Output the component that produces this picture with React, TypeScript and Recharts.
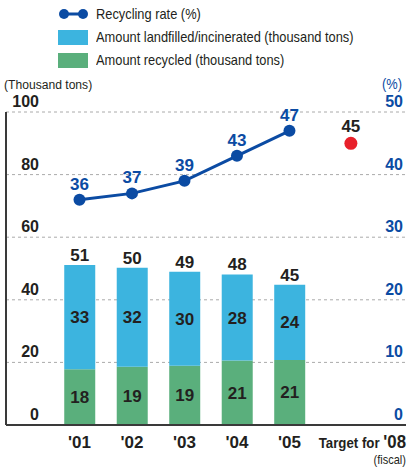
import { Bar, CartesianGrid, ComposedChart, LabelList, Line, XAxis, YAxis } from "recharts"

// fiscal years
const years = ["'01", "'02", "'03", "'04", "'05"]
// thousand tons
const recycled = [17.8, 18.6, 18.9, 20.6, 20.8]
const landfilled = [33.3, 31.6, 30.1, 27.5, 24.0]
// recycling rate (%)
const rate = [36, 37, 39, 43, 47]
const targetRate = 45
const targetLabel = "'08"

const leftTicks = [0, 20, 40, 60, 80, 100]
const rightTicks = [0, 10, 20, 30, 40, 50]

// where the target sits on the x scale (a bit further out than a year step)
const TARGET_X = 6.17

const BLUE = '#0b4ba3'
const LANDFILL = '#3cb4df'
const GREEN = '#5aaf7c'
const RED = '#e8202a'
const INK = '#231f20'
const SANS = '"Liberation Sans", Arial, sans-serif'
// the original uses a condensed face; squeeze the regular one
const SQUEEZE = 0.885

const data = [
  ...years.map((y, i) => ({
    x: i + 1,
    year: y,
    recycled: recycled[i],
    landfilled: landfilled[i],
    total: recycled[i] + landfilled[i],
    rate: rate[i],
  })),
  { x: TARGET_X, year: targetLabel, target: targetRate },
]

const round = (v: any) => (v == null ? '' : Math.round(Number(v)))

function XTick(props: any) {
  const { x, y, payload } = props
  const row = data.find((d) => d.x === payload.value)
  if (!row) return null
  if (row.x === TARGET_X) {
    return (
      <g transform={`translate(406 ${y}) scale(${SQUEEZE} 1)`}>
        <text x={0} y={15} textAnchor="end" fill={INK} fontFamily={SANS} fontWeight="bold">
          <tspan fontSize={15}>Target for </tspan>
          <tspan fontSize={19}>{row.year}</tspan>
        </text>
        <text x={0} y={31} textAnchor="end" fill={INK} fontFamily={SANS} fontSize={12.5}>
          (fiscal)
        </text>
      </g>
    )
  }
  return (
    <text x={x} y={y + 15} textAnchor="middle" fill={INK} fontFamily={SANS} fontWeight="bold" fontSize={17}>
      {row.year}
    </text>
  )
}

function LeftTick(props: any) {
  const { y, payload } = props
  return (
    <text x={39} y={y - 5} textAnchor="end" fill={INK} fontFamily={SANS} fontWeight="bold" fontSize={16}>
      {payload.value}
    </text>
  )
}

function RightTick(props: any) {
  const { y, payload } = props
  return (
    <text x={403} y={y - 5} textAnchor="end" fill={BLUE} fontFamily={SANS} fontWeight="bold" fontSize={16}>
      {payload.value}
    </text>
  )
}

function Legend() {
  const row = { position: 'absolute' as const, left: 58, display: 'flex', alignItems: 'center' }
  const txt = {
    whiteSpace: 'nowrap' as const,
    transform: `scaleX(${SQUEEZE})`,
    transformOrigin: 'left center',
    marginLeft: 8,
    fontFamily: SANS,
    fontSize: 14.5,
    color: INK,
    lineHeight: '16px',
  }
  return (
    <>
      <div style={{ ...row, top: 6 }}>
        <svg width={30} height={16}>
          <line x1={6} y1={8} x2={25} y2={8} stroke={BLUE} strokeWidth={3} />
          <circle cx={6} cy={8} r={5} fill={BLUE} />
          <circle cx={25} cy={8} r={5} fill={BLUE} />
        </svg>
        <span style={txt}>Recycling rate (%)</span>
      </div>
      <div style={{ ...row, top: 29 }}>
        <div style={{ width: 30, height: 15, background: LANDFILL }} />
        <span style={txt}>Amount landfilled/incinerated (thousand tons)</span>
      </div>
      <div style={{ ...row, top: 52 }}>
        <div style={{ width: 30, height: 15, background: GREEN }} />
        <span style={txt}>Amount recycled (thousand tons)</span>
      </div>
      <svg width={414} height={100} style={{ position: 'absolute', left: 0, top: 0, pointerEvents: 'none' }}>
        <text transform={`translate(4 89) scale(${SQUEEZE} 1)`} fontFamily={SANS} fontSize={13.7} fill={INK}>
          (Thousand tons)
        </text>
        <text transform={`translate(402 89) scale(${SQUEEZE} 1)`} textAnchor="end" fontFamily={SANS} fontSize={14.5} fill={BLUE}>
          (%)
        </text>
      </svg>
    </>
  )
}

export default function App() {
  return (
    <div style={{ position: 'absolute', left: 0, top: 0, width: 414, height: 474, background: '#fff' }}>
      <ComposedChart
        width={414}
        height={474}
        data={data}
        margin={{ top: 112, right: 7, bottom: 0, left: 5 }}
      >
        <CartesianGrid yAxisId="left" vertical={false} stroke="#aaa" strokeDasharray="3 3" />
        <XAxis
          dataKey="x"
          type="number"
          domain={[-0.4, 7.22]}
          ticks={[1, 2, 3, 4, 5, TARGET_X]}
          allowDataOverflow
          height={49}
          tickLine={false}
          tick={<XTick />}
          axisLine={{ stroke: '#3a3a3a', strokeWidth: 2 }}
        />
        <YAxis
          yAxisId="left"
          domain={[0, 100]}
          ticks={leftTicks}
          width={1}
          tickLine={false}
          tick={<LeftTick />}
          axisLine={{ stroke: '#3a3a3a', strokeWidth: 2 }}
        />
        <YAxis
          yAxisId="right"
          orientation="right"
          domain={[0, 50]}
          ticks={rightTicks}
          width={1}
          tickLine={false}
          tick={<RightTick />}
          axisLine={false}
        />
        <Bar yAxisId="left" dataKey="recycled" stackId="a" fill={GREEN} barSize={31} isAnimationActive={false}>
          <LabelList dataKey="recycled" position="center" formatter={round} fill={INK} fontSize={17} fontWeight="bold" fontFamily={SANS} />
        </Bar>
        <Bar yAxisId="left" dataKey="landfilled" stackId="a" fill={LANDFILL} barSize={31} isAnimationActive={false}>
          <LabelList dataKey="landfilled" position="center" formatter={round} fill={INK} fontSize={17} fontWeight="bold" fontFamily={SANS} />
          <LabelList dataKey="total" position="top" offset={4} formatter={round} fill={INK} fontSize={17} fontWeight="bold" fontFamily={SANS} />
        </Bar>
        <Line
          yAxisId="right"
          dataKey="rate"
          stroke={BLUE}
          strokeWidth={3}
          dot={{ r: 6, fill: BLUE, stroke: BLUE, strokeWidth: 0 }}
          isAnimationActive={false}
        >
          <LabelList dataKey="rate" position="top" offset={10} fill={BLUE} fontSize={17} fontWeight="bold" fontFamily={SANS} />
        </Line>
        <Line
          yAxisId="right"
          dataKey="target"
          stroke="none"
          dot={{ r: 6.5, fill: RED, stroke: RED, strokeWidth: 0 }}
          isAnimationActive={false}
        >
          <LabelList dataKey="target" position="top" offset={11} fill={INK} fontSize={17} fontWeight="bold" fontFamily={SANS} />
        </Line>
      </ComposedChart>
      <Legend />
    </div>
  )
}
